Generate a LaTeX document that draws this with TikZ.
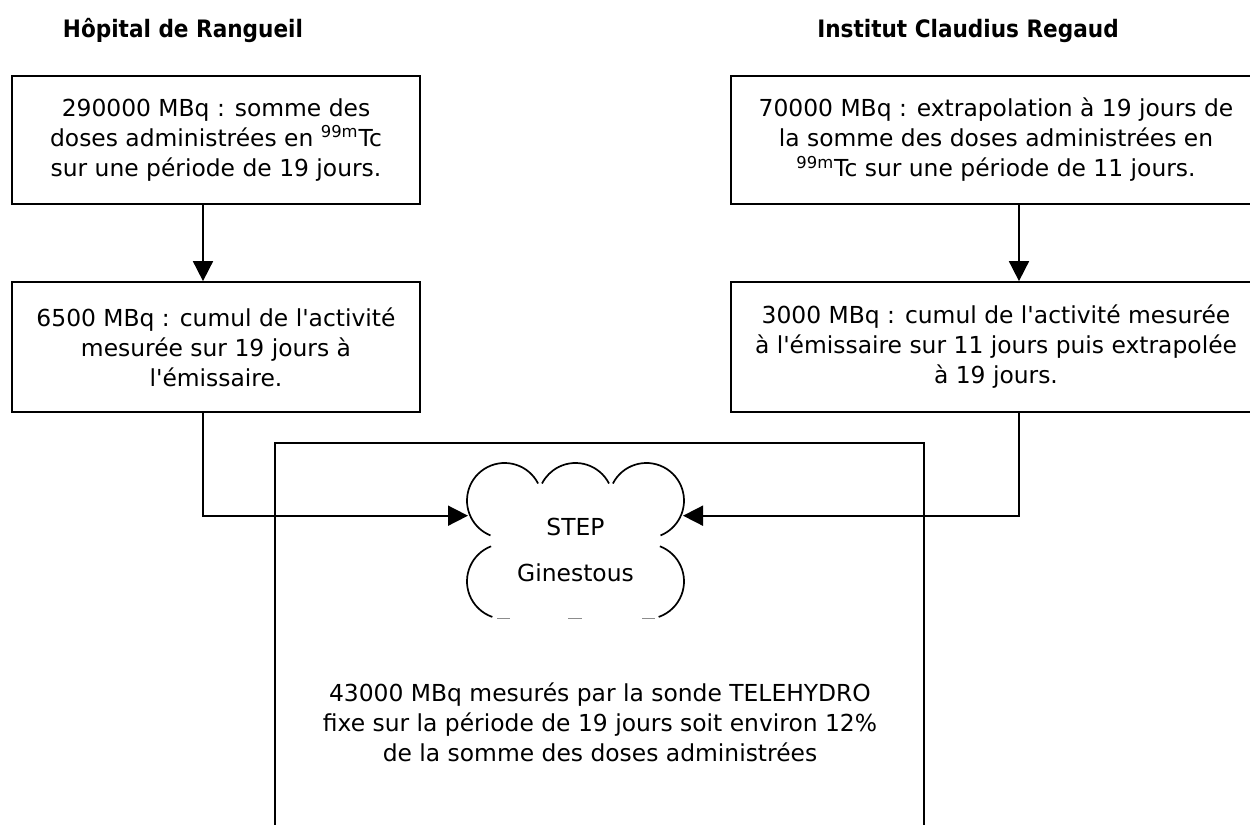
\documentclass[tikz,border=0pt]{standalone}
\usepackage{fontspec}
\setmainfont{DejaVu Sans}
\newfontfamily\titrefont{DejaVu Sans Condensed}
\usetikzlibrary{arrows.meta}

\begin{document}
\begin{tikzpicture}[x=0.5pt, y=0.5pt,
		>={Triangle[length=10pt,width=10pt]},
		every node/.style = {font=\fontsize{11.7pt}{15pt}\selectfont},
		titre/.style = {font=\titrefont\fontsize{12pt}{15pt}\selectfont\bfseries},
		dosebox/.style = {draw, line width=0.85pt, align=center, inner sep=0pt, minimum height=64pt},
		fleche/.style = {->, line width=0.85pt},
		nuage/.style = {line width=0.85pt},
		nuagebit/.style = {line width=0.5pt, black!45}
		]
		\useasboundingbox (0,0) rectangle (1250,825);
		\clip (0,0) rectangle (1250,825);

		% les deux sites
		\node[titre] (rangueil) at (183,794) {Hôpital de Rangueil};
		\node[titre] (regaud) at (968,794) {Institut Claudius Regaud};

		\node[dosebox, minimum width=204pt] (doses1) at (216,685)
			{290000 MBq : somme des\\doses administrées en \textsuperscript{99m}Tc\\sur une période de 19 jours.};
		\node[dosebox, minimum width=204pt, minimum height=65pt] (emis1) at (216,478)
			{6500 MBq : cumul de l\textquotesingle activité\\mesurée sur 19 jours à\\l\textquotesingle émissaire.};
		\node[dosebox, minimum width=265pt] (doses2) at (996,685)
			{70000 MBq : extrapolation à 19 jours de\\la somme des doses administrées en\\\textsuperscript{99m}Tc sur une période de 11 jours.};
		\node[dosebox, minimum width=265pt, minimum height=65pt] (emis2) at (996,478)
			{3000 MBq : cumul de l\textquotesingle activité mesurée\\à l\textquotesingle émissaire sur 11 jours puis extrapolée\\à 19 jours.};

		% la sonde
		\node[draw, line width=0.85pt, inner sep=0pt, minimum width=324.5pt, minimum height=201pt] (sonde) at (599.5,181) {};
		\node[align=center] (mesure) at (600,103)
			{43000 MBq mesurés par la sonde TELEHYDRO\\fixe sur la période de 19 jours soit environ 12\%\\de la somme des doses administrées};

		% la STEP
		\draw[nuage] (504.6,324.4) ++(27:18.8pt) arc (27:248:18.8pt);
		\draw[nuage] (575.5,324.4) ++(27:18.8pt) arc (27:153:18.8pt);
		\draw[nuage] (646.4,324.4) ++(153:18.8pt) arc (153:-68:18.8pt);
		\draw[nuage] (504.6,243.6) ++(111:18.8pt) arc (111:251:18.8pt);
		\draw[nuage] (646.4,243.6) ++(69:18.8pt) arc (69:-71:18.8pt);
		\draw[nuagebit] (497,206.5) -- (510,206.5);
		\draw[nuagebit] (568,206.5) -- (582,206.5);
		\draw[nuagebit] (642,206.5) -- (655,206.5);
		\node[align=center] (step) at (575.5,275) {STEP\\[8pt]Ginestous};
		\coordinate (stepW) at (468,309.3);
		\coordinate (stepE) at (683,309.3);

		% fleches
		\coordinate (gauche) at (203,0);
		\coordinate (droite) at (1019,0);
		\draw[fleche] (doses1.south -| gauche) -- (emis1.north -| gauche);
		\draw[fleche] (doses2.south -| droite) -- (emis2.north -| droite);
		\draw[fleche] (emis1.south -| gauche) |- (stepW);
		\draw[fleche] (emis2.south -| droite) |- (stepE);
	\end{tikzpicture}
\end{document}
